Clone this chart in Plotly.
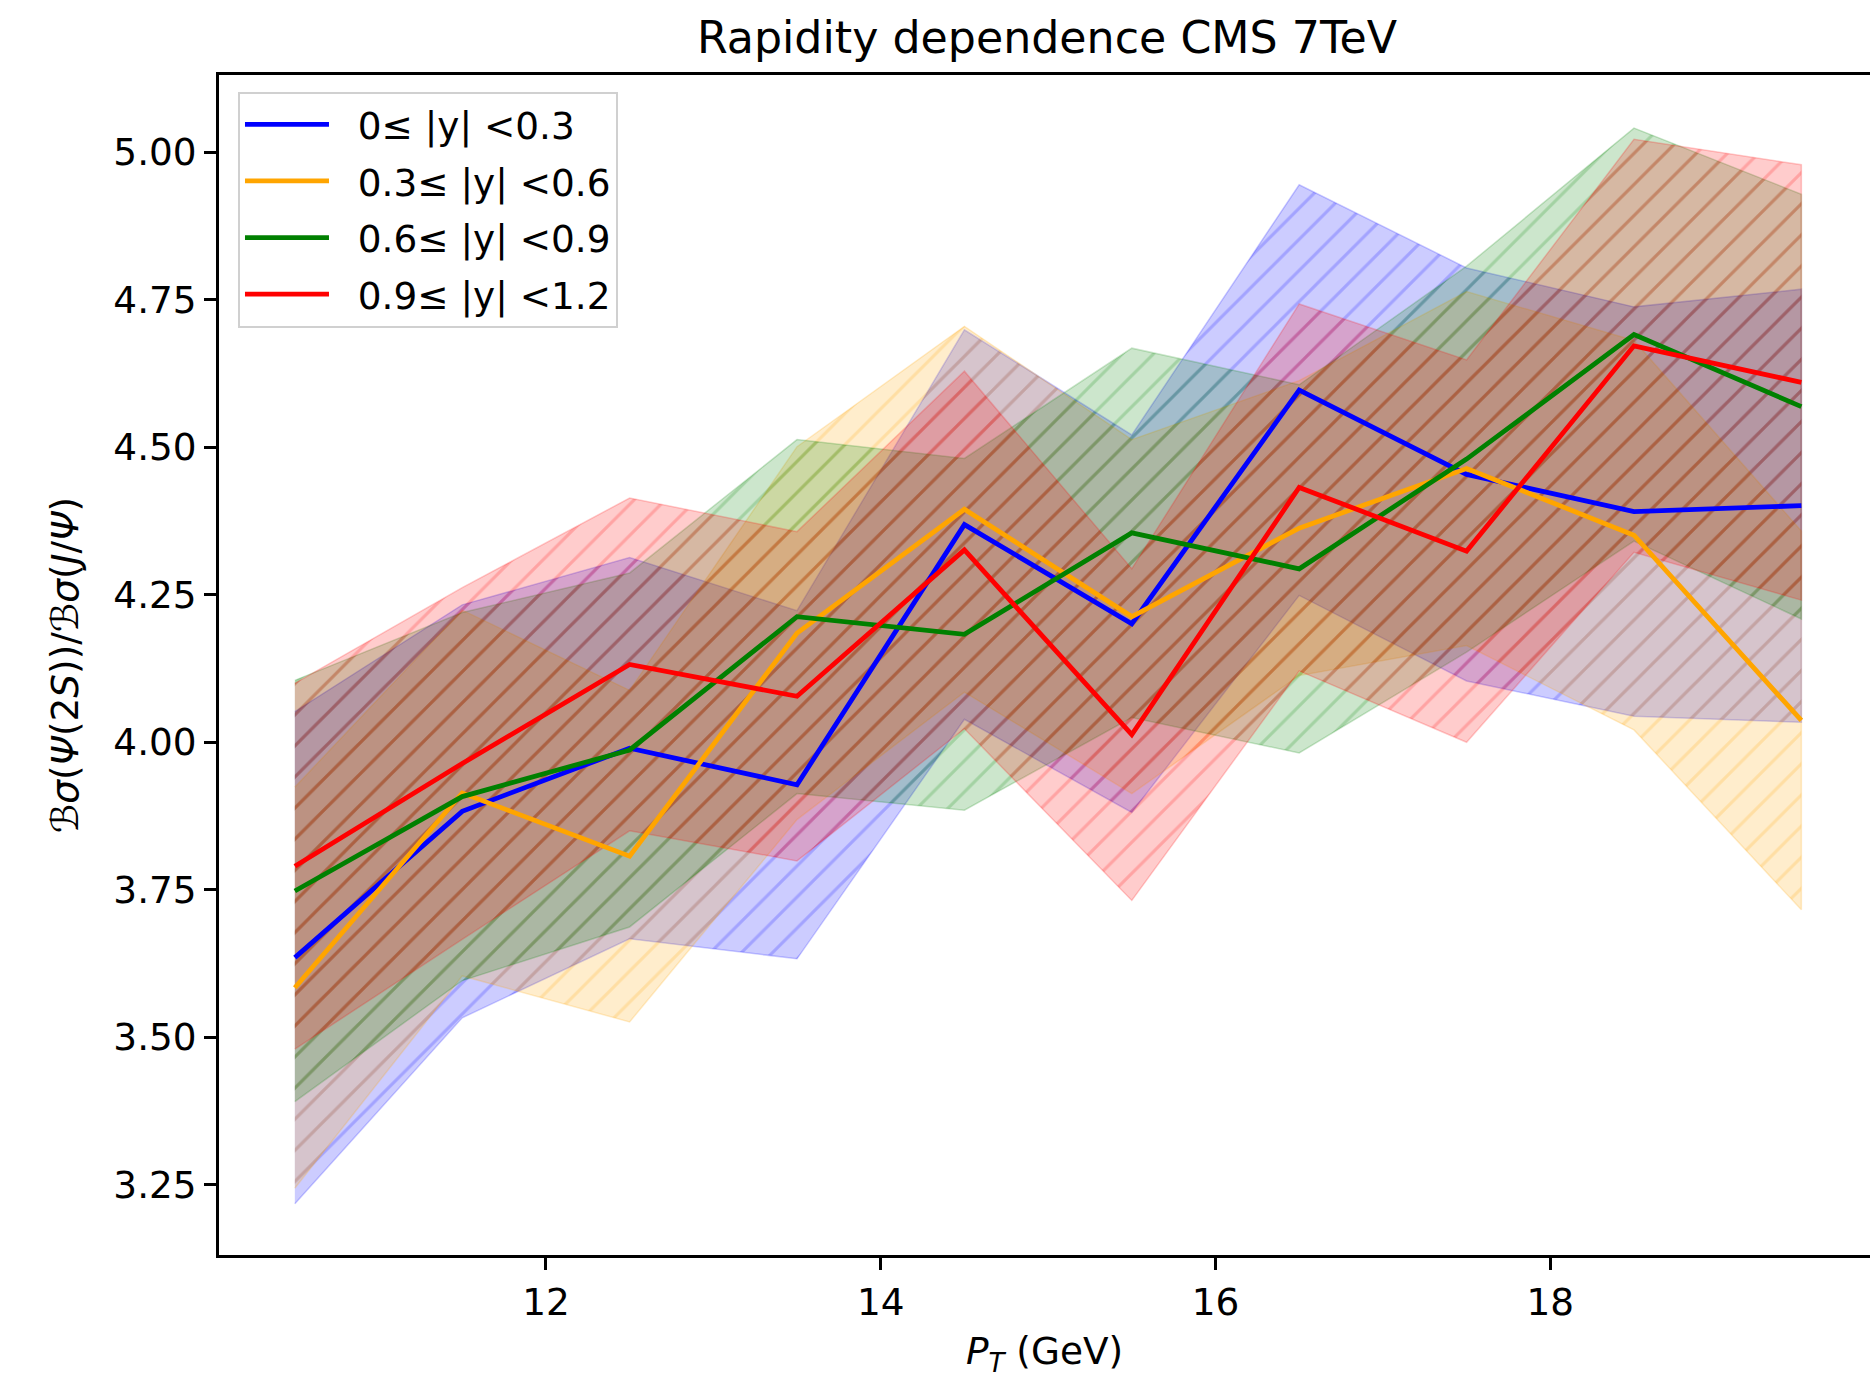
import plotly.graph_objects as go

# ---- data ----
pt = [10.5, 11.5, 12.5, 13.5, 14.5, 15.5, 16.5, 17.5, 18.5, 19.5]

labels = ["0≤ |y| <0.3", "0.3≤ |y| <0.6", "0.6≤ |y| <0.9", "0.9≤ |y| <1.2"]

ratio_y03 = [3.635, 3.883, 3.990, 3.928, 4.369, 4.201, 4.597, 4.454, 4.391, 4.401]
err_y03 = [0.417, 0.350, 0.323, 0.295, 0.330, 0.320, 0.348, 0.350, 0.347, 0.367]

ratio_y06 = [3.584, 3.914, 3.807, 4.185, 4.395, 4.213, 4.363, 4.464, 4.351, 4.037]
err_y06 = [0.340, 0.310, 0.281, 0.316, 0.310, 0.300, 0.250, 0.300, 0.330, 0.321]

ratio_y09 = [3.748, 3.908, 3.987, 4.213, 4.183, 4.355, 4.294, 4.480, 4.691, 4.569]
err_y09 = [0.357, 0.312, 0.300, 0.300, 0.298, 0.313, 0.312, 0.327, 0.350, 0.360]

ratio_y12 = [3.790, 3.964, 4.132, 4.078, 4.326, 4.013, 4.432, 4.324, 4.672, 4.610]
err_y12 = [0.310, 0.298, 0.282, 0.279, 0.303, 0.281, 0.311, 0.324, 0.350, 0.369]

y_ticks = [3.25, 3.50, 3.75, 4.00, 4.25, 4.50, 4.75, 5.00]
x_ticks = [12, 14, 16, 18]

colors_rgb = ["0,0,255", "255,165,0", "0,128,0", "255,0,0"]

series = [
    (labels[0], ratio_y03, err_y03, colors_rgb[0]),
    (labels[1], ratio_y06, err_y06, colors_rgb[1]),
    (labels[2], ratio_y09, err_y09, colors_rgb[2]),
    (labels[3], ratio_y12, err_y12, colors_rgb[3]),
]

FONT = "DejaVu Sans"
FS = 37.4
TITLE_FS = 44.3

fig = go.Figure()

# hatched uncertainty bands
for name, vals, err, rgb in series:
    upper = [v + e for v, e in zip(vals, err)]
    lower = [v - e for v, e in zip(vals, err)]
    fig.add_trace(go.Scatter(
        x=pt + pt[::-1],
        y=upper + lower[::-1],
        mode="lines",
        fill="toself",
        fillcolor=f"rgba({rgb},0.2)",
        fillpattern=dict(shape="/", size=22, solidity=0.14,
                         fgcolor=f"rgb({rgb})", fgopacity=0.2,
                         bgcolor=f"rgba({rgb},0.2)"),
        line=dict(color=f"rgba({rgb},0.2)", width=1.5),
        showlegend=False,
        hoverinfo="skip",
    ))

# central lines
for i, (name, vals, err, rgb) in enumerate(series):
    fig.add_trace(go.Scatter(
        x=pt, y=vals, mode="lines", name="\u00a0\u00a0" + name,
        line=dict(color=f"rgb({rgb})", width=4.8),
        legendgroup=f"g{i}",
    ))

fig.update_layout(
    width=1870, height=1378,
    margin=dict(l=219.4, r=0, t=75.4, b=123.4),
    paper_bgcolor="white", plot_bgcolor="white",
    font=dict(family=FONT, size=FS, color="black"),
    title=dict(text="Rapidity dependence CMS 7TeV", font=dict(size=TITLE_FS, family=FONT, color="black"),
               x=1047 / 1870, xanchor="center", xref="container",
               y=1 - 37 / 1378, yanchor="middle", yref="container"),
    legend=dict(x=0.0115, y=0.986, xanchor="left", yanchor="top",
                bgcolor="rgba(255,255,255,0.8)", bordercolor="#d0d0d0", borderwidth=2,
                font=dict(size=FS, family=FONT, color="black"),
                itemwidth=84, traceorder="grouped", tracegroupgap=5),
    showlegend=True,
)

fig.update_xaxes(
    range=[10.047, 19.910], tickvals=x_ticks, ticktext=[str(t) for t in x_ticks],
    ticks="outside", ticklen=12, tickwidth=2.8, tickcolor="black",
    showline=True, linewidth=2.8, linecolor="black", mirror=True,
    showgrid=False, zeroline=False,
    tickfont=dict(size=FS, family=FONT, color="black"),
    title=dict(text="<i>P</i><sub><i>T</i></sub> (GeV)", standoff=20,
               font=dict(size=FS, family=FONT, color="black")),
)
fig.update_yaxes(
    range=[3.131, 5.131], tickvals=y_ticks, ticktext=[f"{t:.2f}" for t in y_ticks],
    ticks="outside", ticklen=12, tickwidth=2.8, tickcolor="black",
    showline=True, linewidth=2.8, linecolor="black", mirror=False,
    showgrid=False, zeroline=False,
    tickfont=dict(size=FS, family=FONT, color="black"),
    title=dict(text="<i>ℬσ</i>(<i>Ψ</i>(2<i>S</i>))/<i>ℬσ</i>(<i>J</i>/<i>Ψ</i>)", standoff=24,
               font=dict(size=FS, family=FONT, color="black")),
)

fig.write_html("out.html")
